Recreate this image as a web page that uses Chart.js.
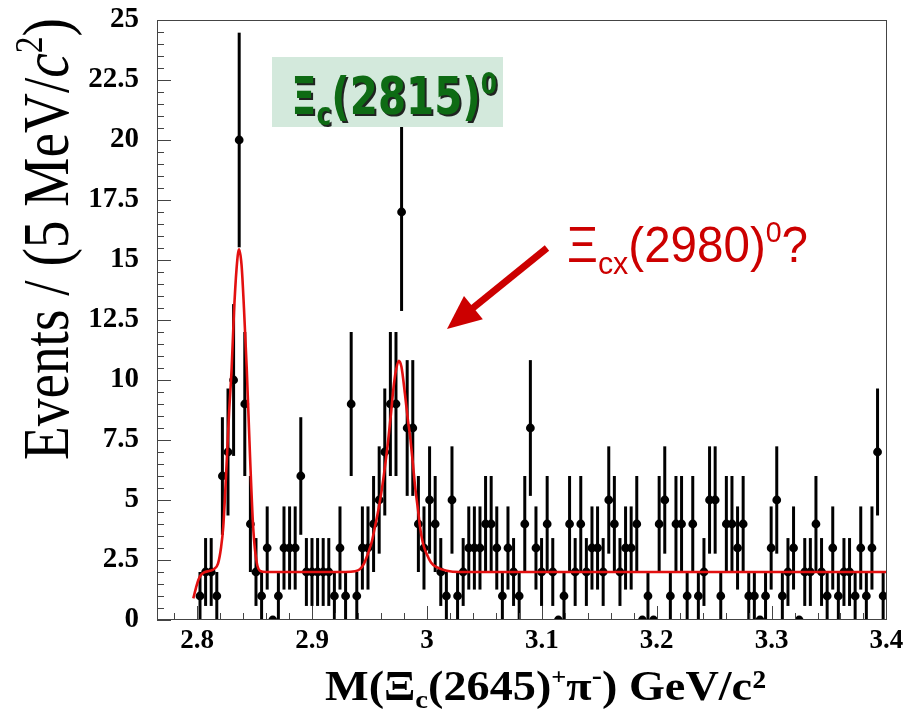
<!DOCTYPE html>
<html><head><meta charset="utf-8">
<script src="https://cdn.jsdelivr.net/npm/chart.js@4.4.0/dist/chart.umd.min.js"></script>
<style>html,body{margin:0;padding:0;background:#fff;}#wrap{width:910px;height:710px;}</style>
</head><body><div id="wrap"><canvas id="c" width="910" height="710"></canvas></div>
<script>
// ---- data (axis units as labelled on the picture) ----
const binStart = 2.80243;      // centre of first bin
const binWidth = 0.0048747;    // bin width (5 MeV)
const counts = [1,2,2,1,6,7,10,20,9,4, 2,1,3,0,1,3,3,3,6,2, 2,2,2,2,1,3,1,9,1,3,
  3,4,5,7,9,9,17,8,8,4, 3,5,4,2,1,5,1,2,3,3, 3,4,4,3,1,3,2,1,4,8,
  3,2,4,2,0,1,4,2,4,2, 3,3,2,5,4,2,3,3,4,0, 1,0,4,5,1,4,4,1,4,1,
  2,5,5,1,4,4,3,4,1,1, 0,1,3,5,1,2,3,0,2,2, 4,2,1,3,1,2,2,1,3,1, 3,7,1];
const fitX = [2.7966,2.7990,2.8010,2.8033,2.8059,2.8111,2.8146,2.8181,2.8207,2.8227,2.8257,2.8277,2.8300,2.8320,2.8342,2.8364,2.8386,2.8407,2.8431,2.8460,2.8488,2.8518,2.8547,2.8599,
  2.9287,2.9374,2.9417,2.9452,2.9489,2.9522,2.9548,2.9578,2.9606,2.9635,2.9663,2.9687,2.9707,2.9730,2.9755,2.9778,2.9809,2.9835,2.9852,2.9878,2.9896,2.9922,2.9939,2.9965,2.9998,3.0035,3.0085,3.0172,3.0288,3.4005];
const fitY = [0.9,1.35,1.67,1.88,1.98,2.05,2.12,2.35,3.0,3.9,6.6,8.6,10.5,12.8,14.6,15.45,14.8,13.0,10.5,6.8,3.8,2.4,2.05,2.0,
  2.0,2.03,2.12,2.35,2.8,3.3,3.9,4.6,5.4,6.4,7.5,8.6,9.6,10.4,10.8,10.55,9.4,8.3,7.7,6.5,5.6,4.6,3.9,3.2,2.75,2.4,2.2,2.05,2.0,2.0];
const xTickValues = [2.8,2.9,3.0,3.1,3.2,3.3,3.4];
const xTickLabels = ['2.8','2.9','3','3.1','3.2','3.3','3.4'];
const yTickValues = [0,2.5,5,7.5,10,12.5,15,17.5,20,22.5,25];
const yTickLabels = ['0','2.5','5','7.5','10','12.5','15','17.5','20','22.5','25'];

const points = counts.map((n,i)=>({x: binStart + i*binWidth, y: n}));
const fitPts = fitX.map((x,i)=>({x, y: fitY[i]}));

function drawRuns(ctx, runs, x, y, targetW, rot){
  ctx.save();
  let total = 0;
  runs.forEach(r=>{ctx.font=r.font; r.w=ctx.measureText(r.t).width; total+=r.w;});
  const s = targetW ? targetW/total : 1;
  ctx.translate(x,y);
  if (rot) ctx.rotate(rot);
  ctx.scale(s,1);
  ctx.textAlign='left'; ctx.textBaseline='alphabetic';
  let cx=0;
  runs.forEach(r=>{ctx.font=r.font; ctx.fillStyle=r.color||'#000'; ctx.fillText(r.t,cx,r.dy||0); cx+=r.w;});
  ctx.restore();
}

const deco = {
  id:'deco',
  beforeDatasetsDraw(chart){
    const {ctx, chartArea:a, scales:{x,y}} = chart;
    ctx.save();
    ctx.beginPath(); ctx.rect(a.left,a.top,a.right-a.left,a.bottom-a.top); ctx.clip();
    ctx.strokeStyle='#000'; ctx.lineWidth=3;
    counts.forEach((n,i)=>{
      if(n<=0) return;
      const e=Math.sqrt(n);
      const px=x.getPixelForValue(binStart+i*binWidth);
      ctx.beginPath();
      ctx.moveTo(px, y.getPixelForValue(n+e));
      ctx.lineTo(px, y.getPixelForValue(Math.max(0,n-e)));
      ctx.stroke();
    });
    ctx.restore();
  },
  afterDatasetsDraw(chart){
    const {ctx, chartArea:a, scales:{x,y}} = chart;
    ctx.save();
    ctx.strokeStyle='#444'; ctx.lineWidth=1;
    ctx.strokeRect(a.left+0.5,a.top+0.5,a.right-a.left-1,a.bottom-a.top-1);
    ctx.beginPath();
    for(let k=0;k<=50;k++){
      const py=Math.round(y.getPixelForValue(k*0.5))+0.5;
      const len = k%5===0?14:7;
      ctx.moveTo(a.left,py); ctx.lineTo(a.left+len,py);
    }
    for(let k=-1;k<=30;k++){
      const v=2.8+0.02*k;
      if(v<x.min||v>x.max) continue;
      const px=Math.round(x.getPixelForValue(v))+0.5;
      const len = (k%5===0)?14:7;
      ctx.moveTo(px,a.bottom); ctx.lineTo(px,a.bottom-len);
    }
    ctx.stroke();
    ctx.restore();
  },
  afterDraw(chart){
    const ctx=chart.ctx;
    // y title
    const fy='66px "Liberation Serif"';
    drawRuns(ctx,[
      {t:'Events / (5 MeV/',font:fy},
      {t:'c',font:'italic '+fy},
      {t:'2',font:'40px "Liberation Serif"',dy:-26},
      {t:')',font:fy}
    ],68,460,442,-Math.PI/2);
    // x title
    const fx='bold 42px "Liberation Serif"';
    drawRuns(ctx,[
      {t:'M(\u039E',font:fx},
      {t:'c',font:'bold 26px "Liberation Serif"',dy:8},
      {t:'(2645)',font:fx},
      {t:'+',font:'bold 24px "Liberation Serif"',dy:-16},
      {t:'\u03C0',font:fx},
      {t:'-',font:'bold 28px "Liberation Serif"',dy:-16},
      {t:') GeV/c\u00B2',font:fx}
    ],325,700,441);
    // green label box
    ctx.save();
    ctx.fillStyle='#d3e9dc';
    ctx.fillRect(272,57,231,70);
    ctx.shadowColor='rgba(0,0,0,0.85)'; ctx.shadowOffsetX=2; ctx.shadowOffsetY=2; ctx.shadowBlur=0;
    const fg='bold 52px "DejaVu Sans"';
    drawRuns(ctx,[
      {t:'\u039E',font:fg,color:'#0e6b14'},
      {t:'c',font:'bold 32px "DejaVu Sans"',dy:11,color:'#0e6b14'},
      {t:'(2815)',font:fg,color:'#0e6b14'},
      {t:'0',font:'bold 30px "DejaVu Sans"',dy:-20,color:'#0e6b14'}
    ],291,114,206);
    ctx.restore();
    // red label
    const fr='50px "Liberation Sans"';
    drawRuns(ctx,[
      {t:'\u039E',font:fr,color:'#cc0000'},
      {t:'cx',font:'32px "Liberation Sans"',dy:12,color:'#cc0000'},
      {t:'(2980)',font:fr,color:'#cc0000'},
      {t:'0',font:'30px "Liberation Sans"',dy:-20,color:'#cc0000'},
      {t:'?',font:fr,color:'#cc0000'}
    ],567,262,241);
    // arrow
    ctx.save();
    ctx.strokeStyle='#cc0000'; ctx.fillStyle='#cc0000'; ctx.lineWidth=7;
    const sx=547, sy=248, tx=447, ty=329;
    const dx=tx-sx, dy=ty-sy, L=Math.hypot(dx,dy), ux=dx/L, uy=dy/L;
    const hl=34, hw=15;
    const bx=tx-hl*ux, by=ty-hl*uy;
    ctx.beginPath(); ctx.moveTo(sx,sy); ctx.lineTo(bx+ux*4,by+uy*4); ctx.stroke();
    ctx.beginPath(); ctx.moveTo(tx,ty); ctx.lineTo(bx-hw*uy,by+hw*ux); ctx.lineTo(bx+hw*uy,by-hw*ux); ctx.closePath(); ctx.fill();
    ctx.restore();
  }
};

function noPad(s){ s.paddingTop=0; s.paddingBottom=0; s.paddingLeft=0; s.paddingRight=0; }

new Chart(document.getElementById('c'),{
  type:'scatter',
  data:{datasets:[
    {type:'line',label:'fit',data:fitPts,borderColor:'#e31010',borderWidth:2.6,pointRadius:0,fill:false,
     cubicInterpolationMode:'monotone',showLine:true,order:0},
    {label:'data',data:points,pointRadius:4.4,pointHoverRadius:4.4,backgroundColor:'#000',borderWidth:0,clip:0,order:1}
  ]},
  options:{
    responsive:false,animation:false,
    layout:{padding:{left:0,right:23,top:20,bottom:0}},
    plugins:{legend:{display:false},tooltip:{enabled:false}},
    scales:{
      x:{type:'linear',min:2.765,max:3.4005,
        afterBuildTicks:s=>{s.ticks=xTickValues.map(v=>({value:v}));},
        afterFit:s=>{s.height=90; noPad(s);},
        grid:{display:false,drawTicks:false},border:{display:false},
        ticks:{autoSkip:false,maxRotation:0,padding:5,color:'#000',
          font:{family:'Liberation Serif',weight:'bold',size:27},
          callback:v=>xTickLabels[xTickValues.findIndex(t=>Math.abs(t-v)<1e-6)]}},
      y:{min:0,max:25,
        afterBuildTicks:s=>{s.ticks=yTickValues.map(v=>({value:v}));},
        afterFit:s=>{s.width=157; noPad(s);},
        grid:{display:false,drawTicks:false},border:{display:false},
        ticks:{autoSkip:false,padding:18,color:'#000',
          font:{family:'Liberation Serif',weight:'bold',size:29},
          callback:v=>yTickLabels[yTickValues.findIndex(t=>Math.abs(t-v)<1e-6)]}}
    }
  },
  plugins:[deco]
});
</script></body></html>
